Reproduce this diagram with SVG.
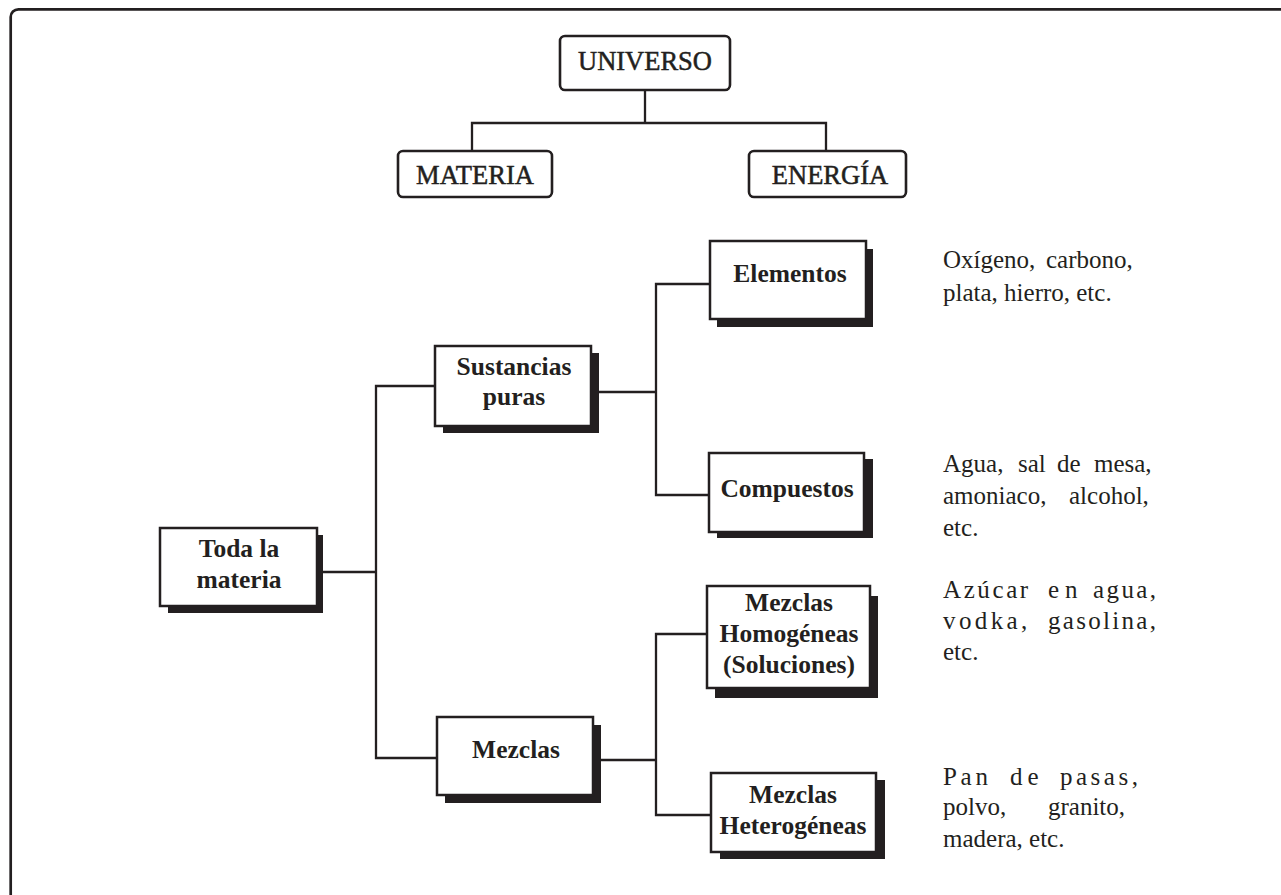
<svg xmlns="http://www.w3.org/2000/svg" width="1281" height="895" viewBox="0 0 1281 895">
  <style>
    .frame{fill:none;stroke:#231f20;stroke-width:2.7}
    .rbox{fill:#fff;stroke:#231f20;stroke-width:2.6}
    .box{fill:#fff;stroke:#231f20;stroke-width:2.5}
    .shadow{fill:#231f20}
    .conn{fill:none;stroke:#231f20;stroke-width:2.3}
    .top{font-family:"Liberation Serif",serif;font-size:26.5px;fill:#231f20;stroke:#231f20;stroke-width:0.5;text-anchor:middle}
    .lbl{font-family:"Liberation Serif",serif;font-weight:bold;font-size:25.5px;fill:#231f20;text-anchor:middle}
    .note{font-family:"Liberation Serif",serif;font-size:25px;fill:#231f20}
  </style>

  <!-- page frame (open on the right and bottom) -->
  <path class="frame" d="M10.7,895 V17 A7.7,7.7 0 0 1 18.4,9.3 H1281"/>

  <!-- connectors -->
  <g id="connectors">
    <path class="conn" d="M645,90 V123"/>
    <path class="conn" d="M472,151 V123 H826 V151"/>
    <path class="conn" d="M323,572 H376"/>
    <path class="conn" d="M435,386 H376 V758 H437"/>
    <path class="conn" d="M599,392 H656"/>
    <path class="conn" d="M710,284 H656 V495 H709"/>
    <path class="conn" d="M601,760 H656"/>
    <path class="conn" d="M707,634 H656 V815 H711"/>
  </g>

  <g id="universo">
    <rect class="rbox" x="560" y="36" width="170" height="54" rx="5"/>
    <text class="top" x="645" y="70">UNIVERSO</text>
  </g>
  <g id="materia">
    <rect class="rbox" x="398" y="151" width="154" height="46" rx="5"/>
    <text class="top" x="475" y="184">MATERIA</text>
  </g>
  <g id="energia">
    <rect class="rbox" x="749" y="151" width="157" height="46" rx="5"/>
    <text class="top" x="830" y="184">ENERGÍA</text>
  </g>

  <g id="toda-la-materia">
    <rect class="shadow" x="168" y="535" width="155" height="78"/>
    <rect class="box" x="160" y="528" width="157" height="78"/>
    <text class="lbl" x="239" y="557">Toda la</text>
    <text class="lbl" x="239" y="588">materia</text>
  </g>

  <g id="sustancias-puras">
    <rect class="shadow" x="443" y="353" width="156" height="80"/>
    <rect class="box" x="435" y="346" width="156" height="80"/>
    <text class="lbl" x="514" y="375">Sustancias</text>
    <text class="lbl" x="514" y="405">puras</text>
  </g>

  <g id="elementos">
    <rect class="shadow" x="717" y="249" width="156" height="78"/>
    <rect class="box" x="710" y="241" width="156" height="78"/>
    <text class="lbl" x="790" y="282">Elementos</text>
  </g>

  <g id="compuestos">
    <rect class="shadow" x="717" y="459" width="156" height="79"/>
    <rect class="box" x="709" y="453" width="155" height="79"/>
    <text class="lbl" x="787" y="497">Compuestos</text>
  </g>

  <g id="mezclas">
    <rect class="shadow" x="445" y="725" width="156" height="78"/>
    <rect class="box" x="437" y="717" width="156" height="78"/>
    <text class="lbl" x="516" y="758">Mezclas</text>
  </g>

  <g id="mezclas-homogeneas">
    <rect class="shadow" x="715" y="596" width="163" height="102"/>
    <rect class="box" x="707" y="586" width="163" height="102"/>
    <text class="lbl" x="789" y="611">Mezclas</text>
    <text class="lbl" x="789" y="642">Homogéneas</text>
    <text class="lbl" x="789" y="673">(Soluciones)</text>
  </g>

  <g id="mezclas-heterogeneas">
    <rect class="shadow" x="720" y="780" width="165" height="79"/>
    <rect class="box" x="711" y="773" width="165" height="79"/>
    <text class="lbl" x="793" y="803">Mezclas</text>
    <text class="lbl" x="793" y="834">Heterogéneas</text>
  </g>

  <!-- example lists -->
  <g id="ejemplos-elementos">
    <text class="note" y="268"><tspan x="943">Oxígeno,</tspan><tspan x="1046">carbono,</tspan></text>
    <text class="note" x="943" y="301">plata, hierro, etc.</text>
  </g>
  <g id="ejemplos-compuestos">
    <text class="note" y="472"><tspan x="943">Agua,</tspan><tspan x="1018">sal</tspan><tspan x="1057">de</tspan><tspan x="1094">mesa,</tspan></text>
    <text class="note" y="504"><tspan x="943">amoniaco,</tspan><tspan x="1069">alcohol,</tspan></text>
    <text class="note" x="943" y="536">etc.</text>
  </g>
  <g id="ejemplos-homogeneas">
    <text class="note" y="598"><tspan x="943" letter-spacing="2.6">Azúcar</tspan><tspan x="1048" letter-spacing="6">en</tspan><tspan x="1093" letter-spacing="2.4">agua,</tspan></text>
    <text class="note" y="629"><tspan x="943" letter-spacing="3.4">vodka,</tspan><tspan x="1048" letter-spacing="2.3">gasolina,</tspan></text>
    <text class="note" x="943" y="660">etc.</text>
  </g>
  <g id="ejemplos-heterogeneas">
    <text class="note" y="785"><tspan x="943" letter-spacing="3.7">Pan</tspan><tspan x="1010" letter-spacing="5">de</tspan><tspan x="1060" letter-spacing="3.5">pasas,</tspan></text>
    <text class="note" y="815"><tspan x="943">polvo,</tspan><tspan x="1048">granito,</tspan></text>
    <text class="note" x="943" y="847">madera, etc.</text>
  </g>
</svg>
